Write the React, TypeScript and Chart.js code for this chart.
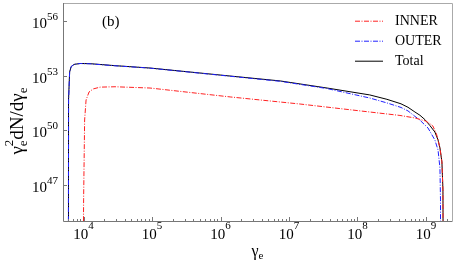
import { useEffect, useRef } from 'react';
import { Chart, registerables } from 'chart.js';

Chart.register(...registerables);

// ---- data ----
const totalGamma = [6.0e3, 6.0e3, 6.04e3, 6.25e3, 6.58e3, 7.26e3, 8.89e3, 1.245e4, 2.88e4, 9.33e4, 1.38e6, 7.41e6, 3.59e7, 1.51e8, 2.69e8, 4.32e8, 5.46e8, 6.9e8, 8.17e8, 9.66e8, 1.14e9, 1.35e9, 1.5e9, 1.6e9, 1.71e9, 1.77e9, 1.78e9];
const totalValue = [1e44, 1.45e46, 4.57e51, 1.58e53, 3.16e53, 4.17e53, 4.68e53, 4.57e53, 3.55e53, 2.63e53, 9.55e52, 5.13e52, 2.09e52, 8.71e51, 5.0e51, 2.82e51, 1.82e51, 1.0e51, 6.6e50, 3.8e50, 1.8e50, 7.9e49, 2.9e49, 1.05e49, 1.8e48, 5.13e46, 1e44];

const outerGamma = [6.0e3, 6.0e3, 6.04e3, 6.25e3, 6.58e3, 7.26e3, 8.89e3, 1.245e4, 2.88e4, 9.33e4, 1.38e6, 7.41e6, 3.59e7, 1.51e8, 2.69e8, 4.32e8, 5.46e8, 6.9e8, 8.17e8, 1.07e9, 1.35e9, 1.5e9, 1.6e9, 1.63e9, 1.632e9];
const outerValue = [1e44, 1.45e46, 4.57e51, 1.58e53, 3.16e53, 4.17e53, 4.68e53, 4.5e53, 3.5e53, 2.6e53, 9.3e52, 4.9e52, 1.95e52, 5.89e51, 3.16e51, 1.78e51, 1.15e51, 5.75e50, 3.55e50, 1.32e50, 2.88e49, 8.13e48, 8.3e47, 1.45e46, 1e44];

const innerGamma = [9.93e3, 1.0e4, 1.035e4, 1.086e4, 1.2e4, 1.38e4, 1.74e4, 2.88e4, 9.33e4, 1.38e6, 1.45e7, 1.51e8, 4.17e8, 6.92e8, 9.77e8, 1.14e9, 1.26e9, 1.42e9, 1.5e9, 1.6e9, 1.71e9, 1.77e9, 1.78e9];
const innerValue = [1e44, 1.45e46, 3.63e50, 4.57e51, 1.26e52, 1.86e52, 2.34e52, 2.45e52, 2.09e52, 6.76e51, 2.75e51, 1.0e51, 6.46e50, 4.68e50, 3.24e50, 2.3e50, 1.7e50, 6.5e49, 2.9e49, 1.05e49, 1.8e48, 5.13e46, 1e44];

const seriesLabels = ['INNER', 'OUTER', 'Total'];
const xTickExponents = [4, 5, 6, 7, 8, 9];
const yTickExponents = [47, 50, 53, 56];
const panelLabel = '(b)';

const SERIF = '"Liberation Serif", "Times New Roman", serif';
const colors = ['#ff2020', '#2020ff', '#000000'];
const dashes: number[][] = [[5, 1.5, 1, 1.5], [5, 1.5, 1, 1.5], []];

function pts(xs: number[], ys: number[]) {
  return xs.map((x, i) => ({ x, y: ys[i] }));
}

const decorPlugin = {
  id: 'decor',
  afterDraw(chart: any) {
    const ctx = chart.ctx as CanvasRenderingContext2D;
    const { left, right, top, bottom } = chart.chartArea;
    const xs = chart.scales.x;
    const ys = chart.scales.y;
    ctx.save();

    // frame
    ctx.lineWidth = 1;
    ctx.strokeStyle = '#aaaaaa';
    ctx.beginPath();
    ctx.moveTo(left, top + 0.5);
    ctx.lineTo(right + 0.5, top + 0.5);
    ctx.lineTo(right + 0.5, bottom);
    ctx.stroke();
    ctx.strokeStyle = '#777777';
    ctx.beginPath();
    ctx.moveTo(left + 0.5, top);
    ctx.lineTo(left + 0.5, bottom + 0.5);
    ctx.lineTo(right + 0.5, bottom + 0.5);
    ctx.stroke();

    // x ticks (major + minor, inward)
    ctx.strokeStyle = '#777777';
    ctx.beginPath();
    for (let e = 3; e <= 9; e++) {
      for (let m = 1; m <= 9; m++) {
        const v = m * Math.pow(10, e);
        const px = xs.getPixelForValue(v);
        if (px < left || px > right) continue;
        const len = m === 1 ? 4 : 2;
        const p = Math.round(px) + 0.5;
        ctx.moveTo(p, bottom);
        ctx.lineTo(p, bottom - len);
      }
    }
    // y major ticks
    for (const e of yTickExponents) {
      const py = Math.round(ys.getPixelForValue(Math.pow(10, e))) + 0.5;
      ctx.moveTo(left, py);
      ctx.lineTo(left + 4, py);
    }
    ctx.stroke();

    // tick labels
    ctx.fillStyle = '#000';
    ctx.textBaseline = 'alphabetic';
    ctx.textAlign = 'left';
    const baseFont = `15px ${SERIF}`;
    const expFont = `11px ${SERIF}`;
    for (const e of xTickExponents) {
      const px = xs.getPixelForValue(Math.pow(10, e));
      ctx.font = baseFont;
      const w1 = ctx.measureText('10').width;
      ctx.font = expFont;
      const w2 = ctx.measureText(String(e)).width;
      const x0 = px - (w1 + w2) / 2;
      ctx.font = baseFont;
      ctx.fillText('10', x0, bottom + 18);
      ctx.font = expFont;
      ctx.fillText(String(e), x0 + w1, bottom + 8);
    }
    for (const e of yTickExponents) {
      const py = ys.getPixelForValue(Math.pow(10, e));
      ctx.font = expFont;
      const w2 = ctx.measureText(String(e)).width;
      ctx.font = baseFont;
      const w1 = ctx.measureText('10').width;
      const xr = left - 5;
      ctx.fillText('10', xr - w2 - w1, py + 7);
      ctx.font = expFont;
      ctx.fillText(String(e), xr - w2, py - 1);
    }

    // x title
    ctx.font = `16px ${SERIF}`;
    const gw = ctx.measureText('γ').width;
    ctx.font = `11px ${SERIF}`;
    const ew = ctx.measureText('e').width;
    const xc = (left + right) / 2;
    const xt = xc - (gw + ew) / 2;
    ctx.font = `16px ${SERIF}`;
    ctx.fillText('γ', xt, bottom + 35);
    ctx.font = `11px ${SERIF}`;
    ctx.fillText('e', xt + gw, bottom + 38);

    // y title (rotated)
    const mainF = `19px ${SERIF}`;
    const smallF = `13px ${SERIF}`;
    ctx.font = mainF;
    const wG = ctx.measureText('γ').width;
    const wMid = ctx.measureText('dN/dγ').width;
    ctx.font = smallF;
    const wE = ctx.measureText('e').width;
    const w2 = ctx.measureText('2').width;
    const total = wG + Math.max(wE, w2) + wMid + wE;
    ctx.translate(23, 121);
    ctx.rotate(-Math.PI / 2);
    let cx = -total / 2;
    ctx.font = mainF;
    ctx.fillText('γ', cx, 0);
    cx += wG;
    ctx.font = smallF;
    ctx.fillText('e', cx, 4);
    ctx.fillText('2', cx, -10);
    cx += Math.max(wE, w2);
    ctx.font = mainF;
    ctx.fillText('dN/dγ', cx, 0);
    cx += wMid;
    ctx.font = smallF;
    ctx.fillText('e', cx, 4);
    ctx.setTransform(1, 0, 0, 1, 0, 0);

    // panel label
    ctx.font = `15px ${SERIF}`;
    ctx.fillText(panelLabel, 102, 26);

    // legend
    const rows = [20.7, 40.7, 60.7];
    ctx.font = `14px ${SERIF}`;
    ctx.textBaseline = 'middle';
    seriesLabels.forEach((lab, i) => {
      ctx.strokeStyle = colors[i];
      ctx.lineWidth = 1;
      ctx.setLineDash(dashes[i]);
      ctx.beginPath();
      ctx.moveTo(355, rows[i] + 0.5);
      ctx.lineTo(383, rows[i] + 0.5);
      ctx.stroke();
      ctx.setLineDash([]);
      ctx.fillStyle = '#000';
      ctx.fillText(lab, 395, rows[i] + 1);
    });
    ctx.restore();
  },
};

export default function App() {
  const ref = useRef<HTMLCanvasElement | null>(null);
  useEffect(() => {
    if (!ref.current) return;
    const chart = new Chart(ref.current, {
      type: 'scatter',
      data: {
        datasets: [
          { label: seriesLabels[0], data: pts(innerGamma, innerValue) },
          { label: seriesLabels[1], data: pts(outerGamma, outerValue) },
          { label: seriesLabels[2], data: pts(totalGamma, totalValue) },
        ].map((d, i) => ({
          ...d,
          showLine: true,
          pointRadius: 0,
          borderColor: colors[i],
          borderWidth: 1,
          borderDash: dashes[i],
          tension: 0,
          fill: false,
        })),
      },
      options: {
        animation: false,
        responsive: false,
        devicePixelRatio: 1,
        layout: { padding: { left: 63, top: 3, right: 5, bottom: 42 } },
        plugins: { legend: { display: false }, tooltip: { enabled: false } },
        scales: {
          x: { type: 'logarithmic', min: 5.0e3, max: 2.4e9, display: false },
          y: { type: 'logarithmic', min: 1e45, max: 1e57, display: false },
        },
      },
      plugins: [decorPlugin],
    });
    return () => chart.destroy();
  }, []);
  return (
    <div style={{ position: 'absolute', left: 0, top: 0, width: 457, height: 263, background: '#fff' }}>
      <canvas ref={ref} width={457} height={263} />
    </div>
  );
}
